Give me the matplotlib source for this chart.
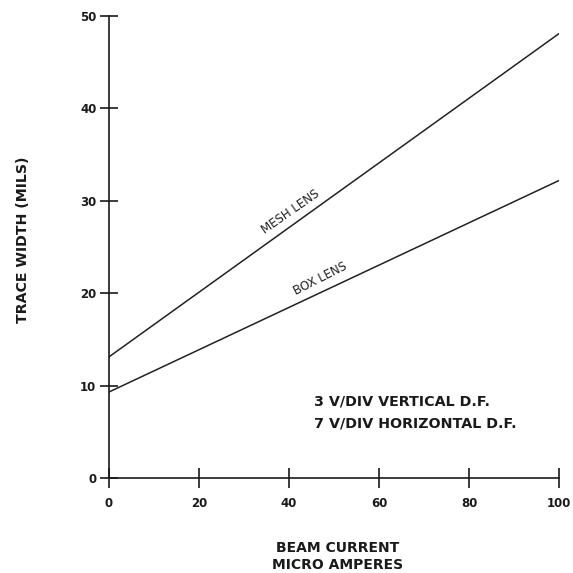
import matplotlib
matplotlib.use("Agg")
import matplotlib.pyplot as plt

# Data
beam_current = [0, 100]
mesh_lens = [13.1, 48.1]
box_lens = [9.3, 32.2]
x_ticks = [0, 20, 40, 60, 80, 100]
y_ticks = [0, 10, 20, 30, 40, 50]

plt.rcParams['font.family'] = ['DejaVu Sans']

fig = plt.figure(figsize=(5.73, 5.73), dpi=100)
ax = fig.add_axes([0.190, 0.1658, 0.7856, 0.8062])

ax.plot(beam_current, mesh_lens, color='#222222', lw=1.1)
ax.plot(beam_current, box_lens, color='#222222', lw=1.1)

ax.set_xlim(0, 100)
ax.set_ylim(0, 50)
ax.set_xticks(x_ticks)
ax.set_yticks(y_ticks)
ax.tick_params(axis='x', direction='inout', length=15, width=1.2, pad=6.5,
               labelsize=8.5, colors='#1a1a1a')
ax.tick_params(axis='y', direction='inout', length=13, width=1.2, pad=2.5,
               labelsize=8.5, colors='#1a1a1a')
for lab in ax.get_xticklabels() + ax.get_yticklabels():
    lab.set_fontweight('bold')

for s in ['top', 'right']:
    ax.spines[s].set_visible(False)
for s in ['left', 'bottom']:
    ax.spines[s].set_linewidth(1.2)
    ax.spines[s].set_color('#1a1a1a')

ax.text(40.3, 28.8, 'MESH LENS', rotation=35, ha='center', va='center',
        fontsize=8.5, color='#222222')
ax.text(47, 21.6, 'BOX LENS', rotation=27, ha='center', va='center',
        fontsize=8.5, color='#222222')

ax.text(45.6, 8.3, '3 V/DIV VERTICAL D.F.', ha='left', va='center',
        fontsize=10.3, fontweight='bold', color='#1a1a1a')
ax.text(45.6, 5.85, '7 V/DIV HORIZONTAL D.F.', ha='left', va='center',
        fontsize=10.3, fontweight='bold', color='#1a1a1a')

fig.text(338 / 573, 1 - 548 / 573, 'BEAM CURRENT', ha='center', va='center',
         fontsize=10, fontweight='bold', color='#1a1a1a')
fig.text(338 / 573, 1 - 565 / 573, 'MICRO AMPERES', ha='center', va='center',
         fontsize=10, fontweight='bold', color='#1a1a1a')
fig.text(23 / 573, 1 - 240 / 573, 'TRACE WIDTH (MILS)', ha='center', va='center',
         rotation=90, fontsize=10.2, fontweight='bold', color='#1a1a1a')

fig.savefig('out.png', dpi=100, facecolor='white')
